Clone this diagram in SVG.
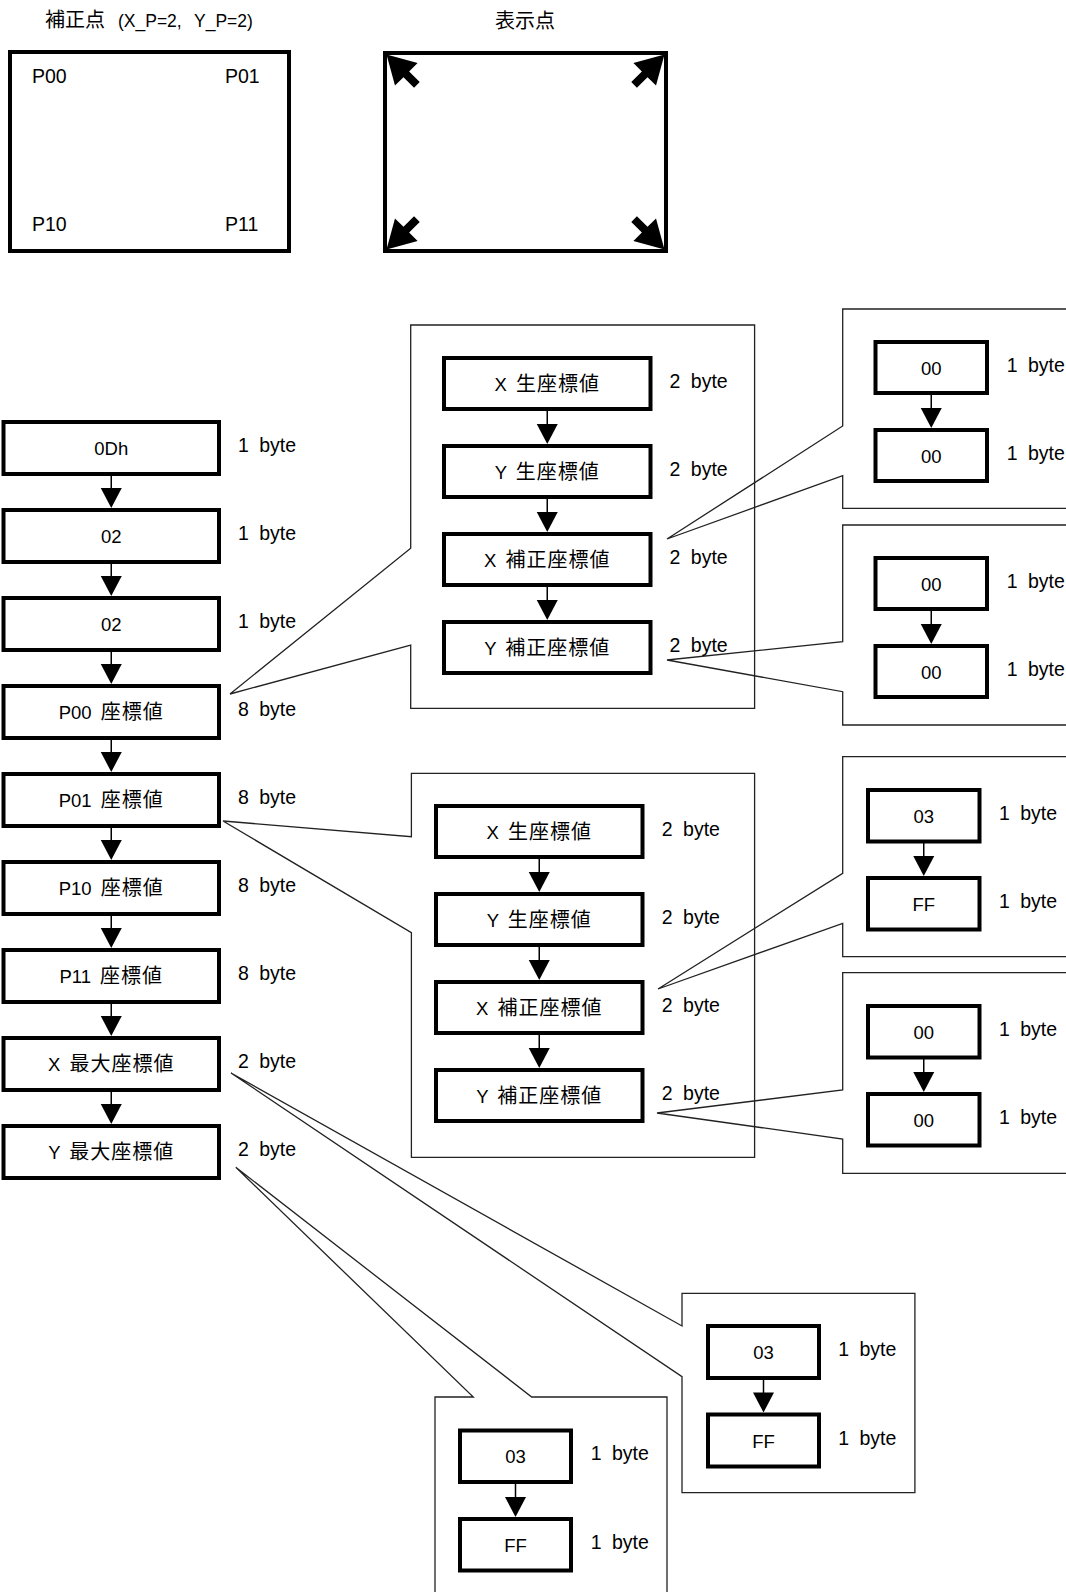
<svg xmlns="http://www.w3.org/2000/svg" xmlns:xlink="http://www.w3.org/1999/xlink" width="1066" height="1592" viewBox="0 0 1066 1592">
<style>
text{font-family:"Liberation Sans","Noto Sans CJK JP",sans-serif;fill:#000;white-space:pre}
.lb{font-size:18.5px;text-anchor:middle;word-spacing:4px}
.by{font-size:19.5px;word-spacing:5px}
.j{font-family:"Noto Sans CJK JP",sans-serif;font-size:20px;letter-spacing:1px}
.box{fill:#fff;stroke:#000;stroke-width:4}
.frm{fill:none;stroke:#222;stroke-width:1.3;stroke-linejoin:miter}
.ln{stroke:#000;stroke-width:1.5}
.hd{fill:#000}
.pt{font-size:19.5px}
</style>
<defs>
<path id="ah" d="M-10.5,0 L10.5,0 L0,20 Z"/>
<path id="barrow" d="M0,0 L28,-16 L28,-4 L43,-4 L43,4 L28,4 L28,16 Z"/>
</defs>
<rect width="1066" height="1592" fill="#fff"/>

<!-- top illustrations -->
<g id="calib-points">
<text x="45" y="27" style="font-size:17.5px"><tspan style="font-family:'Noto Sans CJK JP',sans-serif;font-size:20px">補正点 </tspan><tspan x="118">(X_P=2, </tspan><tspan x="194">Y_P=2)</tspan></text>
<rect class="box" x="10" y="52" width="279" height="199"/>
<text class="pt" x="32" y="83">P00</text>
<text class="pt" x="225" y="83">P01</text>
<text class="pt" x="32" y="231">P10</text>
<text class="pt" x="225" y="231">P11</text>
</g>
<g id="display-points">
<text x="525" y="28" style="font-family:'Noto Sans CJK JP',sans-serif;font-size:20px;text-anchor:middle">表示点</text>
<rect class="box" x="385" y="53" width="281" height="198"/>
<use xlink:href="#barrow" transform="translate(386.5,54.5) rotate(45)"/>
<use xlink:href="#barrow" transform="translate(664.5,54.5) rotate(135)"/>
<use xlink:href="#barrow" transform="translate(664.5,249.5) rotate(225)"/>
<use xlink:href="#barrow" transform="translate(386.5,249.5) rotate(-45)"/>
</g>

<!-- callout frames -->
<g id="frame-p00"><path class="frm" d="M410.7,645 L410.7,708.3 L754.6,708.3 L754.6,325 L410.7,325 L410.7,548.3 L230,694 Z"/></g>
<g id="frame-p01"><path class="frm" d="M411.4,932.7 L411.4,1157.3 L754.6,1157.3 L754.6,773.3 L411.4,773.3 L411.4,836.7 L223,821 Z"/></g>
<g id="frame-p00-x"><path class="frm" d="M842.7,475.7 L842.7,508.3 L1080,508.3 L1080,309 L842.7,309 L842.7,426 L667,539 Z"/></g>
<g id="frame-p00-y"><path class="frm" d="M842.7,691.7 L842.7,725 L1080,725 L1080,525 L842.7,525 L842.7,641.7 L667,660 Z"/></g>
<g id="frame-p01-x"><path class="frm" d="M842.7,923.3 L842.7,956.7 L1080,956.7 L1080,756.7 L842.7,756.7 L842.7,873.3 L658,989 Z"/></g>
<g id="frame-p01-y"><path class="frm" d="M842.7,1139 L842.7,1173.3 L1080,1173.3 L1080,972.7 L842.7,972.7 L842.7,1090 L657,1113 Z"/></g>
<g id="frame-xmax"><path class="frm" d="M682,1376.7 L682,1492.7 L914.9,1492.7 L914.9,1293.3 L682,1293.3 L682,1326 L231,1073 Z"/></g>
<g id="frame-ymax"><path class="frm" d="M531.7,1397 L667,1397 L667,1600 L435,1600 L435,1397 L473.3,1397 L235.8,1167.3 Z"/></g>

<!-- connectors -->
<g id="connectors">
<g class="ln">
<line x1="111.25" y1="476" x2="111.25" y2="489"/>
<line x1="111.25" y1="564" x2="111.25" y2="577"/>
<line x1="111.25" y1="652" x2="111.25" y2="665"/>
<line x1="111.25" y1="740" x2="111.25" y2="753"/>
<line x1="111.25" y1="828" x2="111.25" y2="841"/>
<line x1="111.25" y1="916" x2="111.25" y2="929"/>
<line x1="111.25" y1="1004" x2="111.25" y2="1017"/>
<line x1="111.25" y1="1092" x2="111.25" y2="1105"/>
<line x1="547.25" y1="411" x2="547.25" y2="425"/>
<line x1="547.25" y1="499" x2="547.25" y2="513"/>
<line x1="547.25" y1="587" x2="547.25" y2="601"/>
<line x1="539.25" y1="859" x2="539.25" y2="873"/>
<line x1="539.25" y1="947" x2="539.25" y2="961"/>
<line x1="539.25" y1="1035" x2="539.25" y2="1049"/>
<line x1="931.25" y1="395" x2="931.25" y2="409"/>
<line x1="931.25" y1="611" x2="931.25" y2="625"/>
<line x1="923.75" y1="843" x2="923.75" y2="857"/>
<line x1="923.75" y1="1059" x2="923.75" y2="1073"/>
<line x1="763.5" y1="1379" x2="763.5" y2="1393"/>
<line x1="515.5" y1="1483.5" x2="515.5" y2="1497.5"/>
</g>
<g class="hd">
<use xlink:href="#ah" x="111.25" y="488"/>
<use xlink:href="#ah" x="111.25" y="576"/>
<use xlink:href="#ah" x="111.25" y="664"/>
<use xlink:href="#ah" x="111.25" y="752"/>
<use xlink:href="#ah" x="111.25" y="840"/>
<use xlink:href="#ah" x="111.25" y="928"/>
<use xlink:href="#ah" x="111.25" y="1016"/>
<use xlink:href="#ah" x="111.25" y="1104"/>
<use xlink:href="#ah" x="547.25" y="424"/>
<use xlink:href="#ah" x="547.25" y="512"/>
<use xlink:href="#ah" x="547.25" y="600"/>
<use xlink:href="#ah" x="539.25" y="872"/>
<use xlink:href="#ah" x="539.25" y="960"/>
<use xlink:href="#ah" x="539.25" y="1048"/>
<use xlink:href="#ah" x="931.25" y="408"/>
<use xlink:href="#ah" x="931.25" y="624"/>
<use xlink:href="#ah" x="923.75" y="856"/>
<use xlink:href="#ah" x="923.75" y="1072"/>
<use xlink:href="#ah" x="763.5" y="1392.5"/>
<use xlink:href="#ah" x="515.5" y="1497"/>
</g>
</g>

<!-- main column -->
<g id="n-0dh"><rect class="box" x="3.5" y="422" width="215.5" height="52"/><text class="lb" x="111.25" y="455">0Dh</text><text class="by" x="238" y="452">1 byte</text></g>
<g id="n-02a"><rect class="box" x="3.5" y="510" width="215.5" height="52"/><text class="lb" x="111.25" y="543">02</text><text class="by" x="238" y="540">1 byte</text></g>
<g id="n-02b"><rect class="box" x="3.5" y="598" width="215.5" height="52"/><text class="lb" x="111.25" y="631">02</text><text class="by" x="238" y="628">1 byte</text></g>
<g id="n-p00"><rect class="box" x="3.5" y="686" width="215.5" height="52"/><text class="lb" x="111.25" y="719">P00 <tspan class="j">座標値</tspan></text><text class="by" x="238" y="716">8 byte</text></g>
<g id="n-p01"><rect class="box" x="3.5" y="774" width="215.5" height="52"/><text class="lb" x="111.25" y="807">P01 <tspan class="j">座標値</tspan></text><text class="by" x="238" y="804">8 byte</text></g>
<g id="n-p10"><rect class="box" x="3.5" y="862" width="215.5" height="52"/><text class="lb" x="111.25" y="895">P10 <tspan class="j">座標値</tspan></text><text class="by" x="238" y="892">8 byte</text></g>
<g id="n-p11"><rect class="box" x="3.5" y="950" width="215.5" height="52"/><text class="lb" x="111.25" y="983">P11 <tspan class="j">座標値</tspan></text><text class="by" x="238" y="980">8 byte</text></g>
<g id="n-xmax"><rect class="box" x="3.5" y="1038" width="215.5" height="52"/><text class="lb" x="111.25" y="1071">X <tspan class="j">最大座標値</tspan></text><text class="by" x="238" y="1068">2 byte</text></g>
<g id="n-ymax"><rect class="box" x="3.5" y="1126" width="215.5" height="52"/><text class="lb" x="111.25" y="1159">Y <tspan class="j">最大座標値</tspan></text><text class="by" x="238" y="1156">2 byte</text></g>

<!-- frame 1 contents -->
<g id="n-p00-xraw"><rect class="box" x="444" y="358" width="206.5" height="51"/><text class="lb" x="547.25" y="390.5">X <tspan class="j">生座標値</tspan></text><text class="by" x="669.6" y="388">2 byte</text></g>
<g id="n-p00-yraw"><rect class="box" x="444" y="446" width="206.5" height="51"/><text class="lb" x="547.25" y="478.5">Y <tspan class="j">生座標値</tspan></text><text class="by" x="669.6" y="476">2 byte</text></g>
<g id="n-p00-xcal"><rect class="box" x="444" y="534" width="206.5" height="51"/><text class="lb" x="547.25" y="566.5">X <tspan class="j">補正座標値</tspan></text><text class="by" x="669.6" y="564">2 byte</text></g>
<g id="n-p00-ycal"><rect class="box" x="444" y="622" width="206.5" height="51"/><text class="lb" x="547.25" y="654.5">Y <tspan class="j">補正座標値</tspan></text><text class="by" x="669.6" y="652">2 byte</text></g>

<!-- frame 4 contents -->
<g id="n-p01-xraw"><rect class="box" x="436" y="806" width="206.5" height="51"/><text class="lb" x="539.25" y="838.5">X <tspan class="j">生座標値</tspan></text><text class="by" x="661.8" y="836">2 byte</text></g>
<g id="n-p01-yraw"><rect class="box" x="436" y="894" width="206.5" height="51"/><text class="lb" x="539.25" y="926.5">Y <tspan class="j">生座標値</tspan></text><text class="by" x="661.8" y="924">2 byte</text></g>
<g id="n-p01-xcal"><rect class="box" x="436" y="982" width="206.5" height="51"/><text class="lb" x="539.25" y="1014.5">X <tspan class="j">補正座標値</tspan></text><text class="by" x="661.8" y="1012">2 byte</text></g>
<g id="n-p01-ycal"><rect class="box" x="436" y="1070" width="206.5" height="51"/><text class="lb" x="539.25" y="1102.5">Y <tspan class="j">補正座標値</tspan></text><text class="by" x="661.8" y="1100">2 byte</text></g>

<!-- frame 2/3 contents -->
<g id="n-f2a"><rect class="box" x="875.5" y="342" width="111.5" height="51"/><text class="lb" x="931.25" y="374.5">00</text><text class="by" x="1006.7" y="372">1 byte</text></g>
<g id="n-f2b"><rect class="box" x="875.5" y="430" width="111.5" height="51"/><text class="lb" x="931.25" y="462.5">00</text><text class="by" x="1006.7" y="460">1 byte</text></g>
<g id="n-f3a"><rect class="box" x="875.5" y="558" width="111.5" height="51"/><text class="lb" x="931.25" y="590.5">00</text><text class="by" x="1006.7" y="588">1 byte</text></g>
<g id="n-f3b"><rect class="box" x="875.5" y="646" width="111.5" height="51"/><text class="lb" x="931.25" y="678.5">00</text><text class="by" x="1006.7" y="676">1 byte</text></g>

<!-- frame 5/6 contents -->
<g id="n-f5a"><rect class="box" x="868" y="790" width="111.5" height="51.5"/><text class="lb" x="923.75" y="822.5">03</text><text class="by" x="999" y="820">1 byte</text></g>
<g id="n-f5b"><rect class="box" x="868" y="878" width="111.5" height="51.5"/><text class="lb" x="923.75" y="910.5">FF</text><text class="by" x="999" y="908">1 byte</text></g>
<g id="n-f6a"><rect class="box" x="868" y="1006" width="111.5" height="51.5"/><text class="lb" x="923.75" y="1038.5">00</text><text class="by" x="999" y="1036">1 byte</text></g>
<g id="n-f6b"><rect class="box" x="868" y="1094" width="111.5" height="51.5"/><text class="lb" x="923.75" y="1126.5">00</text><text class="by" x="999" y="1124">1 byte</text></g>

<!-- frame 7 contents -->
<g id="n-f7a"><rect class="box" x="708" y="1326" width="111" height="52"/><text class="lb" x="763.5" y="1359">03</text><text class="by" x="838.2" y="1356">1 byte</text></g>
<g id="n-f7b"><rect class="box" x="708" y="1414.5" width="111" height="52"/><text class="lb" x="763.5" y="1447.5">FF</text><text class="by" x="838.2" y="1444.5">1 byte</text></g>

<!-- frame 8 contents -->
<g id="n-f8a"><rect class="box" x="460" y="1430.5" width="111" height="51.5"/><text class="lb" x="515.5" y="1463">03</text><text class="by" x="590.7" y="1460">1 byte</text></g>
<g id="n-f8b"><rect class="box" x="460" y="1519" width="111" height="51.5"/><text class="lb" x="515.5" y="1551.5">FF</text><text class="by" x="590.7" y="1548.5">1 byte</text></g>
</svg>
